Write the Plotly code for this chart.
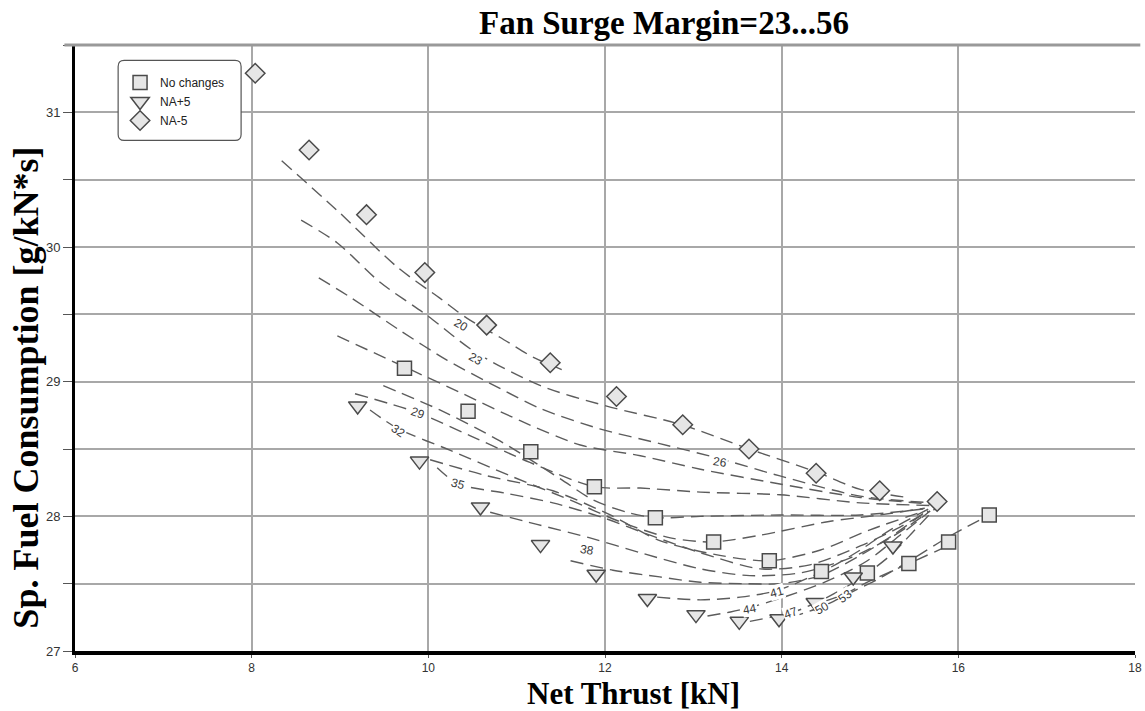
import plotly.graph_objects as go

# ---------------- data ----------------
nochg_x = [9.73, 10.45, 11.16, 11.88, 12.57, 13.23, 13.86, 14.45, 14.97, 15.44, 15.89, 16.35]
nochg_y = [29.10, 28.78, 28.48, 28.22, 27.99, 27.81, 27.67, 27.59, 27.58, 27.65, 27.81, 28.01]

na_plus_x = [9.20, 9.90, 10.59, 11.27, 11.90, 12.48, 13.03, 13.52, 13.97, 14.38, 14.81, 15.26]
na_plus_y = [28.82, 28.41, 28.07, 27.79, 27.57, 27.39, 27.27, 27.22, 27.24, 27.36, 27.55, 27.78]

na_minus_x = [8.04, 8.65, 9.30, 9.96, 10.66, 11.38, 12.13, 12.88, 13.63, 14.39, 15.11, 15.76]
na_minus_y = [31.29, 30.72, 30.24, 29.81, 29.42, 29.14, 28.89, 28.68, 28.50, 28.32, 28.19, 28.11]

# constant fan-surge-margin dashed curves
sm20_x = [8.34, 8.97, 9.65, 10.13, 10.44, 10.81, 11.19, 11.51]
sm20_y = [30.64, 30.27, 29.85, 29.62, 29.47, 29.33, 29.18, 29.09]
sm23_x = [8.56, 8.97, 9.45, 9.99, 10.53, 11.27, 12.01, 12.87, 13.63, 14.39, 14.89, 15.43]
sm23_y = [30.20, 30.03, 29.74, 29.49, 29.22, 28.97, 28.82, 28.68, 28.50, 28.33, 28.20, 28.14]
sm26_x = [8.76, 9.11, 9.68, 10.21, 10.81, 11.27, 11.94, 12.62, 13.29, 13.98, 14.89, 15.71]
sm26_y = [29.77, 29.63, 29.38, 29.16, 28.95, 28.80, 28.65, 28.54, 28.43, 28.30, 28.15, 28.10]
smA_x = [8.97, 9.73, 10.36, 11.04, 11.72, 12.40, 13.08, 13.98, 14.89, 15.71]
smA_y = [29.34, 29.11, 28.92, 28.71, 28.53, 28.45, 28.35, 28.24, 28.14, 28.09]
sm29_x = [9.17, 9.88, 10.47, 11.15, 11.88, 12.40, 13.08, 13.98, 14.89, 15.71]
sm29_y = [28.91, 28.77, 28.60, 28.40, 28.22, 28.21, 28.18, 28.16, 28.10, 28.08]
smB_x = [9.49, 10.13, 10.81, 11.49, 11.87, 12.25, 12.57, 13.08, 13.98, 14.89, 15.68]
smB_y = [28.97, 28.79, 28.56, 28.28, 28.12, 28.03, 27.99, 28.00, 28.01, 28.01, 28.06]
sm32_x = [9.34, 9.66, 10.25, 10.93, 11.61, 12.17, 12.74, 13.22, 13.76, 14.52, 15.11, 15.62]
sm32_y = [28.79, 28.65, 28.49, 28.30, 28.12, 27.96, 27.84, 27.81, 27.86, 27.96, 28.01, 28.06]
smC_x = [10.02, 10.67, 11.41, 12.06, 12.62, 13.30, 13.86, 14.44, 15.00, 15.62]
smC_y = [28.42, 28.30, 28.19, 28.01, 27.82, 27.71, 27.67, 27.75, 27.90, 28.04]
sm35_x = [10.10, 10.34, 10.89, 11.41, 11.98, 12.51, 13.08, 13.76, 14.32, 14.89, 15.34, 15.66]
sm35_y = [28.36, 28.24, 28.17, 28.10, 27.99, 27.86, 27.73, 27.61, 27.64, 27.78, 27.92, 28.04]
smD_x = [10.70, 11.23, 11.83, 12.40, 13.08, 13.64, 14.21, 14.77, 15.23, 15.68]
smD_y = [28.03, 27.94, 27.84, 27.73, 27.61, 27.56, 27.58, 27.69, 27.84, 28.04]
sm38_x = [11.61, 12.09, 12.62, 13.08, 13.61, 13.98, 14.44, 14.89, 15.26, 15.62]
sm38_y = [27.67, 27.60, 27.55, 27.51, 27.50, 27.50, 27.56, 27.71, 27.86, 28.03]
sm41_x = [12.59, 13.08, 13.53, 13.95, 14.52, 14.89, 15.23, 15.68]
sm41_y = [27.40, 27.38, 27.40, 27.45, 27.61, 27.75, 27.90, 28.06]
sm44_x = [13.16, 13.42, 13.62, 13.98, 14.52, 14.97, 15.34, 15.68]
sm44_y = [27.26, 27.29, 27.32, 27.39, 27.52, 27.67, 27.86, 28.04]
sm47_x = [13.64, 13.87, 14.10, 14.52, 14.89, 15.23, 15.51, 15.74]
sm47_y = [27.22, 27.25, 27.28, 27.40, 27.54, 27.71, 27.90, 28.06]
sm50_x = [14.10, 14.46, 14.77, 15.11, 15.45, 15.87, 16.35]
sm50_y = [27.25, 27.33, 27.43, 27.54, 27.67, 27.84, 28.01]
sm53_x = [14.49, 14.70, 15.00, 15.44, 15.88]
sm53_y = [27.37, 27.42, 27.52, 27.65, 27.78]

curve_x = [sm20_x, sm23_x, sm26_x, smA_x, sm29_x, smB_x, sm32_x, smC_x, sm35_x,
           smD_x, sm38_x, sm41_x, sm44_x, sm47_x, sm50_x, sm53_x]
curve_y = [sm20_y, sm23_y, sm26_y, smA_y, sm29_y, smB_y, sm32_y, smC_y, sm35_y,
           smD_y, sm38_y, sm41_y, sm44_y, sm47_y, sm50_y, sm53_y]

# curve labels
lab_text = ["20", "23", "26", "29", "32", "35", "38", "41", "44", "47", "50", "53"]
lab_x = [10.37, 10.54, 13.30, 9.88, 9.66, 10.34, 11.80, 13.95, 13.64, 14.10, 14.46, 14.72]
lab_y = [29.42, 29.17, 28.40, 28.77, 28.63, 28.24, 27.75, 27.44, 27.31, 27.28, 27.32, 27.41]
lab_ang = [30, 30, 8, 20, 35, 15, 10, -15, -10, -20, -30, -35]

x_ticks = [6, 8, 10, 12, 14, 16, 18]
y_ticks = [27, 28, 29, 30, 31]

# ---------------- figure ----------------
fig = go.Figure()

for cx, cy in zip(curve_x, curve_y):
    fig.add_trace(go.Scatter(
        x=cx, y=cy, mode="lines", showlegend=False, hoverinfo="skip",
        line=dict(color="#5c5c5c", width=1.4, dash="13px,7px", shape="spline", smoothing=0.8)))

mk_fill = "#e6e6e6"
mk_line = dict(color="#4a4a4a", width=1.5)
fig.add_trace(go.Scatter(x=nochg_x, y=nochg_y, mode="markers", name="No changes",
                         marker=dict(symbol="square", size=14, color=mk_fill, line=mk_line)))
fig.add_trace(go.Scatter(x=na_plus_x, y=na_plus_y, mode="markers", name="NA+5",
                         marker=dict(symbol="triangle-down", size=16, color=mk_fill, line=mk_line)))
fig.add_trace(go.Scatter(x=na_minus_x, y=na_minus_y, mode="markers", name="NA-5",
                         marker=dict(symbol="diamond", size=15, color=mk_fill, line=mk_line)))

narrow = "Liberation Sans Narrow, Arial Narrow, Liberation Sans, Arial"
for t, lx, ly, a in zip(lab_text, lab_x, lab_y, lab_ang):
    fig.add_annotation(x=lx, y=ly, text=t, showarrow=False, textangle=a,
                       font=dict(family=narrow, size=12, color="#3a3a3a"),
                       bgcolor="white", borderpad=0)

tick_font = dict(family=narrow, size=12, color="#333")
grid_c = "#a8a8a8"

fig.update_xaxes(range=[6, 18], tickvals=x_ticks, ticktext=[str(v) for v in x_ticks],
                 showgrid=True, gridcolor=grid_c, gridwidth=1.6, zeroline=False,
                 showline=True, linecolor="black", linewidth=4, automargin=False,
                 ticks="outside", ticklen=3, tickcolor="#555", tickfont=tick_font)
fig.update_yaxes(range=[27, 31.5], tickvals=y_ticks, ticktext=[str(v) for v in y_ticks],
                 showgrid=True, gridcolor=grid_c, gridwidth=1.6, zeroline=False,
                 showline=True, linecolor="black", linewidth=3, automargin=False,
                 ticks="outside", ticklen=9, tickcolor="#555", tickfont=dict(family=narrow, size=13, color="#333"),
                 minor=dict(tickvals=[27.5, 28.5, 29.5, 30.5, 31.5], ticks="outside", ticklen=9,
                            tickcolor="#555", showgrid=True, gridcolor=grid_c, gridwidth=1.6))

# top frame line
fig.add_shape(type="line", xref="paper", yref="paper", x0=-0.01, x1=1.005, y0=1, y1=1,
              line=dict(color="#999", width=3), layer="above")

# rounded legend box
x0, x1, y0, y1 = 0.0407, 0.1567, 0.8426, 0.9746
rx, ry = 0.0057, 0.0099
path = (f"M{x0+rx},{y0} L{x1-rx},{y0} Q{x1},{y0} {x1},{y0+ry} L{x1},{y1-ry} Q{x1},{y1} {x1-rx},{y1} "
        f"L{x0+rx},{y1} Q{x0},{y1} {x0},{y1-ry} L{x0},{y0+ry} Q{x0},{y0} {x0+rx},{y0} Z")
fig.add_shape(type="path", xref="paper", yref="paper", path=path,
              fillcolor="white", line=dict(color="#555", width=1.2), layer="above")

serif = "Liberation Serif, Times New Roman, serif"
fig.add_annotation(xref="paper", yref="paper", x=0.556, y=1.037, text="<b>Fan Surge Margin=23...56</b>",
                   showarrow=False, xanchor="center", yanchor="middle",
                   font=dict(family=serif, size=33, color="black"))
fig.add_annotation(xref="paper", yref="paper", x=0.5265, y=-0.0695, text="<b>Net Thrust [kN]</b>",
                   showarrow=False, xanchor="center", yanchor="middle",
                   font=dict(family=serif, size=31, color="black"))
fig.add_annotation(xref="paper", yref="paper", x=-0.046, y=0.435, text="<b>Sp. Fuel Consumption [g/kN*s]</b>",
                   showarrow=False, xanchor="center", yanchor="middle", textangle=-90,
                   font=dict(family=serif, size=36, color="black"))

fig.update_layout(
    width=1145, height=711,
    margin=dict(l=75, r=10, t=45, b=60, autoexpand=False),
    plot_bgcolor="white", paper_bgcolor="white",
    legend=dict(x=0.0425, y=0.962, xanchor="left", yanchor="top", bgcolor="rgba(0,0,0,0)",
                borderwidth=0, tracegroupgap=0, itemwidth=30,
                font=dict(family=narrow, size=12, color="#222")),
)

fig.write_html("out.html")
